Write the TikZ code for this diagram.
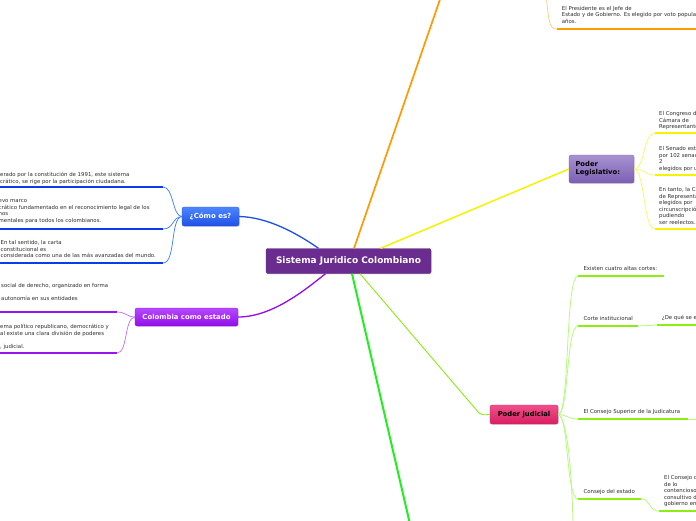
\documentclass[tikz,border=0pt]{standalone}
\usepackage{fontspec}
\setmainfont{DejaVu Sans}
\usetikzlibrary{shadows,calc}
\definecolor{rootc}{HTML}{6A2C8E}
\definecolor{bluetop}{HTML}{4C86FF}
\definecolor{bluebot}{HTML}{1E50E6}
\definecolor{purtop}{HTML}{B648FF}
\definecolor{purbot}{HTML}{920EE8}
\definecolor{legtop}{HTML}{A792D2}
\definecolor{legbot}{HTML}{7C5FB2}
\definecolor{judtop}{HTML}{F0508A}
\definecolor{judbot}{HTML}{D81E62}
\definecolor{blueul}{HTML}{0A3CEA}
\definecolor{bluecn}{HTML}{3C7CFF}
\definecolor{purul}{HTML}{9A12EE}
\definecolor{purcn}{HTML}{BE6CFF}
\definecolor{orgul}{HTML}{FF9A00}
\definecolor{orgcn}{HTML}{FFC880}
\definecolor{yelul}{HTML}{F4F400}
\definecolor{yelcn}{HTML}{F8F860}
\definecolor{grnmain}{HTML}{22EE22}
\definecolor{lgrn}{HTML}{8AEE10}
\definecolor{lgrncn}{HTML}{B8FA80}
\definecolor{txtc}{HTML}{2E2E2E}
\begin{document}
\begin{tikzpicture}[x=1pt,y=-1pt,
  boxbase/.style={rounded corners=2pt, inner sep=0pt, font=\fontsize{7}{8.4}\selectfont\bfseries,
     drop shadow={shadow xshift=0.8pt, shadow yshift=-0.8pt, opacity=0.25}},
  rootbox/.style={boxbase, fill=rootc, draw=rootc!85!black, line width=0.4pt, text=white,
     minimum width=165pt, minimum height=25pt, font=\fontsize{9}{10}\selectfont\bfseries},
  bluebox/.style={boxbase, top color=bluetop, bottom color=bluebot, draw=bluebot, line width=0.3pt, text=white, minimum width=57pt, minimum height=19pt},
  purbox/.style={boxbase, top color=purtop, bottom color=purbot, draw=purbot, line width=0.3pt, text=white, minimum width=103pt, minimum height=18pt, font=\fontsize{6.9}{8}\selectfont\bfseries},
  legbox/.style={boxbase, top color=legtop, bottom color=legbot, draw=legbot, line width=0.3pt, text=black, minimum width=65pt, minimum height=28pt, align=left, text width=52pt, font=\fontsize{6.8}{8.2}\selectfont\bfseries},
  judbox/.style={boxbase, top color=judtop, bottom color=judbot, draw=judbot, line width=0.3pt, text=black, minimum width=68pt, minimum height=19pt, font=\fontsize{6.8}{8}\selectfont\bfseries},
  txt/.style={anchor=north west, inner sep=0pt, align=left, text=txtc, font=\fontsize{5.4}{6.5}\selectfont},
  bul/.style={blueul, line width=2.6pt},
  bcn/.style={bluecn, line width=0.7pt},
  pul/.style={purul, line width=2.6pt},
  pcn/.style={purcn, line width=0.7pt},
  oul/.style={orgul, line width=2.4pt},
  ocn/.style={orgcn, line width=0.7pt},
  yul/.style={yelul, line width=2.6pt},
  ycn/.style={yelcn, line width=0.7pt},
  gul/.style={lgrn, line width=2.6pt},
  gcn/.style={lgrncn, line width=0.8pt}
]
\useasboundingbox (0,0) rectangle (696,520);
\clip (0,0) rectangle (696,520);
\fill[white] (0,0) rectangle (696,520);

% ---------- main branches ----------
\coordinate (otop) at (440.5,-2);
\coordinate (gbot) at (409.5,522);
\coordinate (jbend) at (479,413);

\node[rootbox] (root) at (348.5,261) {Sistema Juridico Colombiano};
\node[bluebox] (como) at (210.5,216.5) {¿Cómo es?};
\node[purbox] (col) at (186.5,317) {Colombia como estado};
\node[legbox] (leg) at (601.5,169) {Poder\\Legislativo:};
\node[judbox] (jud) at (524,414.5) {Poder judicial};

\draw[orgul, line width=1.7pt] ([xshift=5.5pt]root.north) -- (otop);
\draw[yelul, line width=1.5pt] ([xshift=32pt]root.north) -- (leg.west);
\draw[bluebot, line width=1.3pt] (como.east) .. controls (268,217) and (298,234) .. ([xshift=-30pt]root.north);
\draw[purbot, line width=1.3pt] (col.east) .. controls (272,317) and (305,290) .. ([xshift=-23pt]root.south);
\draw[grnmain, line width=2pt] ([xshift=3.5pt]root.south) -- (gbot);
\draw[lgrn, line width=0.9pt] ([xshift=11.5pt]root.south) -- (jbend) .. controls (483,415) .. (jud.west);

% ---------- ¿Cómo es? children ----------
\coordinate (b1a) at (-2,187); \coordinate (b1b) at (163,187);
\coordinate (b2a) at (-2,229); \coordinate (b2b) at (163,229);
\coordinate (b3a) at (-2,263); \coordinate (b3b) at (163,263);
\draw[bul] (b1a) -- (b1b);
\draw[bul] (b2a) -- (b2b);
\draw[bul] (b3a) -- (b3b);
\draw[bcn] (como.west) .. controls (172,216) and (174,187) .. (b1b);
\draw[bcn] (como.west) .. controls (172,217) and (174,229) .. (b2b);
\draw[bcn] (como.west) .. controls (170,218) and (176,263) .. (b3b);
\node[txt] (bt1) at (0,172.0) {erado por la constitución de 1991, este sistema\\crático, se rige por la participación ciudadana.};
\node[txt] (bt2) at (-1.5,199.7) {evo marco\\crático fundamentado en el reconocimiento legal de los\\nos\\mentales para todos los colombianos.};
\node[txt] (bt3) at (0.5,240.2) {En tal sentido, la carta\\constitucional es\\considerada como una de las más avanzadas del mundo.};

% ---------- Colombia como estado children ----------
\coordinate (p1a) at (-2,312); \coordinate (p1b) at (117,312);
\coordinate (p2a) at (-2,353); \coordinate (p2b) at (117,353);
\draw[pul] (p1a) -- (p1b);
\draw[pul] (p2a) -- (p2b);
\draw[pcn] (col.west) .. controls (127,317) and (126,312) .. (p1b);
\draw[pcn] (col.west) .. controls (124,318) and (128,353) .. (p2b);
\node[txt] (pt1) at (1,283.0) {social de derecho, organizado en forma\\\\autonomía en sus entidades};
\node[txt] (pt2) at (0,324.2) {ema político republicano, democrático y\\al existe una clara división de poderes\\\\, judicial.};

% ---------- orange child ----------
\coordinate (o0) at (546,-6);
\coordinate (o1a) at (557,29); \coordinate (o1b) at (698,29);
\draw[ocn] (o0) .. controls (549,22) and (549,29) .. (o1a);
\draw[oul] (o1a) -- (o1b);
\node[txt] (ot1) at (561.7,6.0) {El Presidente es el Jefe de\\Estado y de Gobierno. Es elegido por voto popular\\años.};

% ---------- Poder Legislativo children ----------
\coordinate (y1a) at (655,133); \coordinate (y1b) at (698,133);
\coordinate (y2a) at (655,175); \coordinate (y2b) at (698,175);
\coordinate (y3a) at (655,229); \coordinate (y3b) at (698,229);
\draw[yul] (y1a) -- (y1b);
\draw[yul] (y2a) -- (y2b);
\draw[yul] (y3a) -- (y3b);
\draw[ycn] (leg.east) .. controls (645,169) and (643,133) .. (y1a);
\draw[ycn] (leg.east) .. controls (645,169) and (645,175) .. (y2a);
\draw[ycn] (leg.east) .. controls (645,170) and (643,229) .. (y3a);
\node[txt] (yt1) at (659,111.3) {El Congreso de\\Cámara de\\Representantes};
\node[txt] (yt2) at (659,146.3) {El Senado está\\por 102 senadores\\2\\elegidos por un};
\node[txt] (yt3) at (659,187.0) {En tanto, la Cámara\\de Representantes\\elegidos por\\circunscripción\\pudiendo\\ser reelectos.};

% ---------- Poder judicial children ----------
\coordinate (g1a) at (578,276); \coordinate (g1b) at (664,276);
\coordinate (g2a) at (578,326); \coordinate (g2b) at (638,326);
\coordinate (g2c) at (657,325); \coordinate (g2d) at (698,325);
\coordinate (g3a) at (578,419); \coordinate (g3b) at (688,419);
\coordinate (g3c) at (698,419);
\coordinate (g4a) at (578,499); \coordinate (g4b) at (641,499);
\coordinate (g4c) at (659,511); \coordinate (g4d) at (698,511);
\coordinate (g5) at (573,524);
\draw[gcn] (jud.east) .. controls (570,414) and (565,276) .. (g1a);
\draw[gcn] (jud.east) .. controls (569,414) and (566,326) .. (g2a);
\draw[gcn] (jud.east) .. controls (568,415) and (568,419) .. (g3a);
\draw[gcn] (jud.east) .. controls (569,416) and (566,499) .. (g4a);
\draw[gcn] (jud.east) .. controls (568,418) and (572,480) .. (g5);
\draw[gul] (g1a) -- (g1b);
\draw[gul] (g2a) -- (g2b);
\draw[gcn] (g2b) -- (g2c);
\draw[gul] (g2c) -- (g2d);
\draw[gul] (g3a) -- (g3b);
\draw[gcn] (g3b) -- (g3c);
\draw[gul] (g4a) -- (g4b);
\draw[gcn] (g4b) .. controls (651,499) and (648,511) .. (g4c);
\draw[gul] (g4c) -- (g4d);
\node[txt] (gt1) at (583.3,266.3) {Existen cuatro altas cortes:};
\node[txt] (gt2) at (583.3,316.0) {Corte institucional};
\node[txt] (gt2b) at (661.7,314.7) {¿De qué se encarga?};
\node[txt] (gt3) at (583.3,409.3) {El Consejo Superior de la Judicatura};
\node[txt] (gt4) at (583.3,489.3) {Consejo del estado};
\node[txt] (gt4b) at (664,475.3) {El Consejo de\\de lo\\contencioso\\consultivo del\\gobierno en};
\end{tikzpicture}
\end{document}
